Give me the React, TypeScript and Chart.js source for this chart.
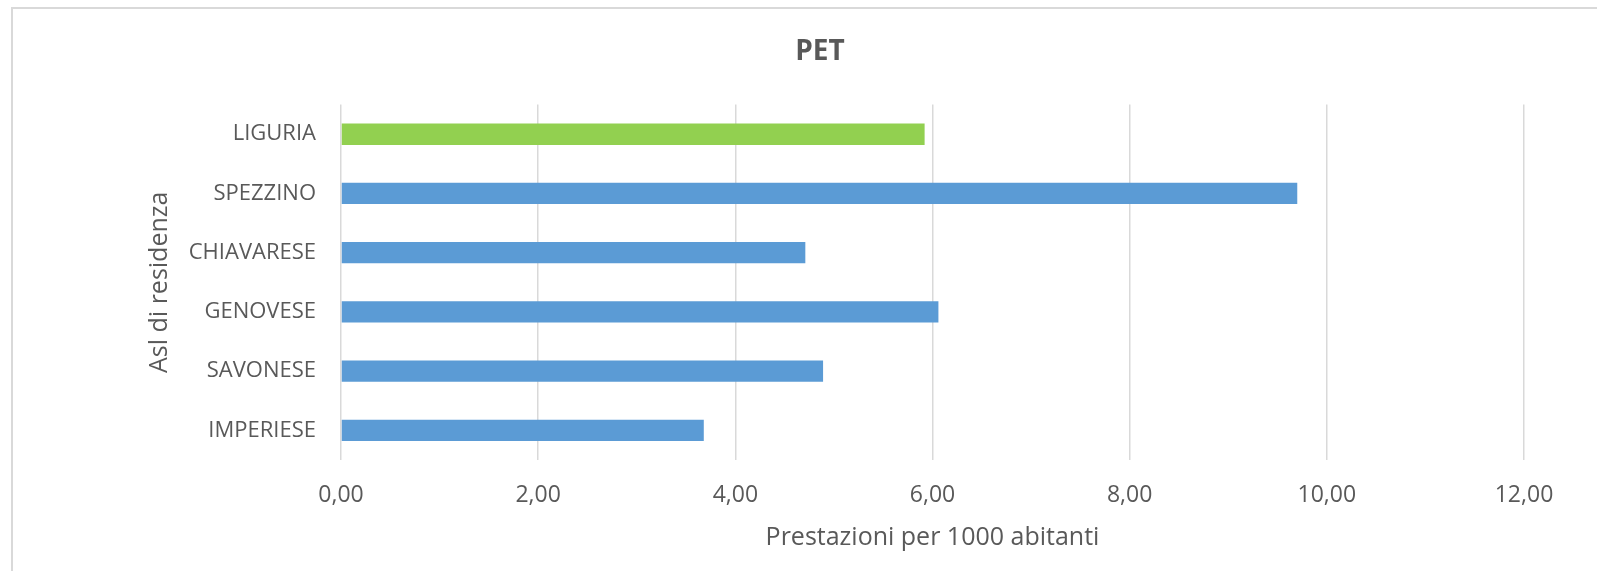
import React, { useEffect, useRef } from "react";
import { Chart, registerables } from "chart.js";

Chart.register(...registerables);

// ASL areas plus the regional total
const categories = ["LIGURIA", "SPEZZINO", "CHIAVARESE", "GENOVESE", "SAVONESE", "IMPERIESE"];
// PET exams per 1000 residents
const values = [5.92, 9.7, 4.71, 6.06, 4.89, 3.68];
const barColors = ["#92d050", "#5b9bd5", "#5b9bd5", "#5b9bd5", "#5b9bd5", "#5b9bd5"];
const xTickValues = [0, 2, 4, 6, 8, 10, 12];

const chartTitle = "PET";
const xAxisTitle = "Prestazioni per 1000 abitanti";
const yAxisTitle = "Asl di residenza";

const FONT = "'Open Sans', 'DejaVu Sans', sans-serif";
const TEXT = "#595959";

export default function App() {
  const canvasRef = useRef<HTMLCanvasElement | null>(null);

  useEffect(() => {
    if (!canvasRef.current) return;
    const chart = new Chart(canvasRef.current, {
      type: "bar",
      data: {
        labels: categories,
        datasets: [
          {
            data: values,
            backgroundColor: barColors,
            borderWidth: 0,
            barPercentage: 0.36,
            categoryPercentage: 1,
          },
        ],
      },
      options: {
        indexAxis: "y",
        responsive: false,
        animation: false,
        maintainAspectRatio: false,
        layout: { padding: { left: 116, right: 73, top: 0, bottom: 0 } },
        plugins: {
          legend: { display: false },
          tooltip: { enabled: false },
          title: {
            display: true,
            text: chartTitle,
            color: TEXT,
            font: { family: FONT, size: 28, weight: "bold", lineHeight: 1.2 },
            padding: { top: 35, bottom: 36 },
          },
        },
        scales: {
          x: {
            type: "linear",
            min: 0,
            max: 12,
            afterBuildTicks: (scale: any) => {
              scale.ticks = xTickValues.map((v) => ({ value: v }));
            },
            afterFit: (scale: any) => {
              scale.height = 111;
            },
            grid: { color: "#d9d9d9", lineWidth: 1.5, drawTicks: false },
            border: { display: false },
            ticks: {
              color: TEXT,
              padding: 22,
              font: { family: FONT, size: 23, lineHeight: 1.2 },
              callback: (v: any) => Number(v).toFixed(2).replace(".", ","),
            },
            title: {
              display: true,
              text: xAxisTitle,
              color: TEXT,
              font: { family: FONT, size: 25, lineHeight: 1.2 },
              padding: { top: 0, bottom: 18 },
            },
          },
          y: {
            afterFit: (scale: any) => {
              scale.width = 225;
            },
            grid: { display: false, drawTicks: false },
            border: { display: false },
            ticks: {
              color: TEXT,
              padding: 25,
              font: { family: FONT, size: 22, lineHeight: 1.2 },
            },
            title: {
              display: true,
              text: yAxisTitle,
              color: TEXT,
              font: { family: FONT, size: 25, lineHeight: 1.2 },
              padding: { top: 29, bottom: 0 },
            },
          },
        },
      },
    });
    return () => chart.destroy();
  }, []);

  return (
    <div style={{ position: "absolute", left: 0, top: 0, width: 1597, height: 571, overflow: "hidden", background: "#ffffff" }}>
      <div
        style={{
          position: "absolute",
          left: 11,
          top: 7,
          width: 1620,
          height: 600,
          borderTop: "2px solid #d9d9d9",
          borderLeft: "2px solid #d9d9d9",
          boxSizing: "border-box",
        }}
      />
      <canvas ref={canvasRef} width={1597} height={571} style={{ position: "absolute", left: 0, top: 0 }} />
    </div>
  );
}
